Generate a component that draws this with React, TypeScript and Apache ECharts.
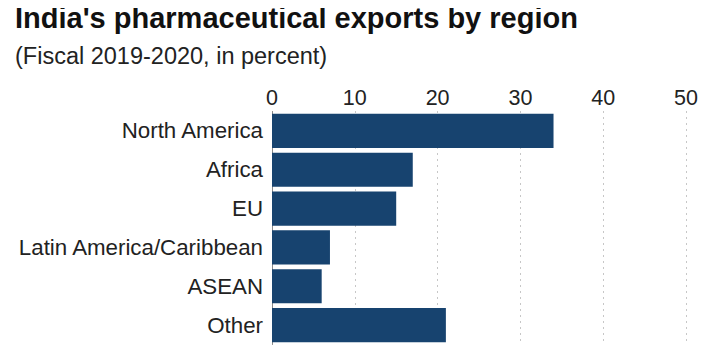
import React, { useEffect, useRef } from "react";
import * as echarts from "echarts";

const categories = ["North America", "Africa", "EU", "Latin America/Caribbean", "ASEAN", "Other"];
const shares = [34, 17, 15, 7, 6, 21];
const tickMin = 0;
const tickMax = 50;
const tickStep = 10;

const FONT = "'Liberation Sans', Arial, Helvetica, sans-serif";

export default function App() {
  const ref = useRef<HTMLDivElement>(null);
  useEffect(() => {
    if (!ref.current) return;
    const chart = echarts.init(ref.current, undefined, { renderer: "svg" });
    chart.setOption({
      animation: false,
      backgroundColor: "#ffffff",
      graphic: [
        {
          type: "text",
          left: 15,
          top: 3,
          style: {
            text: "India's pharmaceutical exports by region",
            font: `bold 29px ${FONT}`,
            fill: "#111111",
          },
        },
        {
          type: "text",
          left: 15,
          top: 44,
          style: {
            text: "(Fiscal 2019-2020, in percent)",
            font: `23.5px ${FONT}`,
            fill: "#222222",
          },
        },
      ],
      grid: { left: 272, right: 35, top: 111.5, bottom: 11.5, containLabel: false },
      xAxis: {
        type: "value",
        position: "top",
        min: tickMin,
        max: tickMax,
        interval: tickStep,
        axisLine: { show: false },
        axisTick: { show: false },
        axisLabel: { fontSize: 21.5, fontFamily: FONT, color: "#222222", margin: 3 },
        splitLine: {
          show: true,
          lineStyle: { type: [1, 5], color: "#8f8f8f", width: 1 },
        },
      },
      yAxis: {
        type: "category",
        data: categories,
        inverse: true,
        axisLine: { show: true, lineStyle: { color: "#8a8a8a", width: 1 } },
        axisTick: { show: false },
        axisLabel: { fontSize: 22.3, fontFamily: FONT, color: "#222222", margin: 9 },
      },
      series: [
        {
          type: "bar",
          data: shares,
          barCategoryGap: "12%",
          itemStyle: { color: "#17436f" },
        },
      ],
    });
    return () => chart.dispose();
  }, []);
  return <div ref={ref} style={{ width: 721, height: 356, margin: -8 }} />;
}
